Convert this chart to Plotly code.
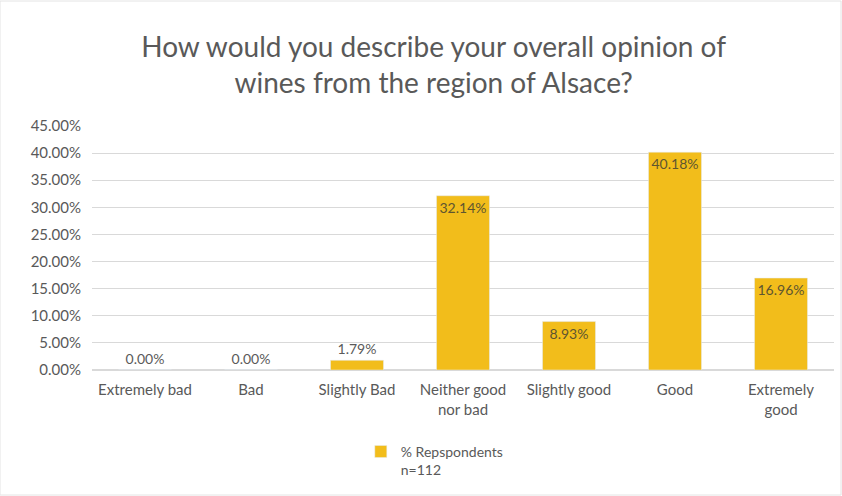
import plotly.graph_objects as go

categories = ["Extremely bad", "Bad", "Slightly Bad", "Neither good<br>nor bad",
              "Slightly good", "Good", "Extremely<br>good"]
values = [0.0, 0.0, 0.0179, 0.3214, 0.0893, 0.4018, 0.1696]
labels = ["0.00%", "0.00%", "1.79%", "32.14%", "8.93%", "40.18%", "16.96%"]
series_name = "% Repspondents<br>n=112"
title_text = "How would you describe your overall opinion of<br>wines from the region of Alsace?"

positions = ["inside" if v > 0.05 else "outside" for v in values]

fig = go.Figure()
fig.add_trace(go.Bar(
    x=categories, y=values, name=series_name,
    text=labels, textposition=positions, insidetextanchor="end",
    textangle=0, constraintext="none",
    textfont=dict(color="#5a5a5a", size=14), outsidetextfont=dict(color="#5a5a5a", size=14),
    insidetextfont=dict(color="#5e5530", size=14),
    marker=dict(color="#F2BD1B"), width=0.5, cliponaxis=False,
    showlegend=True,
))

fig.update_layout(
    width=842, height=496,
    paper_bgcolor="white", plot_bgcolor="white",
    font=dict(family="Lato, Open Sans, sans-serif", color="#595959", size=14),
    title=dict(text=title_text, x=0.515, xanchor="center", y=0.886, yanchor="middle",
               font=dict(size=28, color="#595959")),
    margin=dict(l=92, r=8, t=126, b=126),
    bargap=0.5,
    showlegend=True,
    legend=dict(orientation="h", x=0.462, xanchor="center", y=-0.27, yanchor="top",
                font=dict(size=14, color="#595959"), itemwidth=30, valign="top"),
    xaxis=dict(showgrid=False, showline=False, ticks="", ticklabelstandoff=9,
               tickfont=dict(size=15, color="#595959")),
    yaxis=dict(range=[0, 0.45], dtick=0.05, tickformat=".2%", showgrid=True,
               gridcolor="#d9d9d9", gridwidth=1, zeroline=True, zerolinecolor="#d9d9d9",
               showline=False, ticks="", ticklabelstandoff=10,
               tickfont=dict(size=15, color="#595959")),
    shapes=[dict(type="rect", xref="paper", yref="paper", x0=-92/742, x1=1+7/742,
                 y0=-125/244, y1=1+125/244, line=dict(color="#e4e4e4", width=1))],
)

fig.write_html("out.html")
